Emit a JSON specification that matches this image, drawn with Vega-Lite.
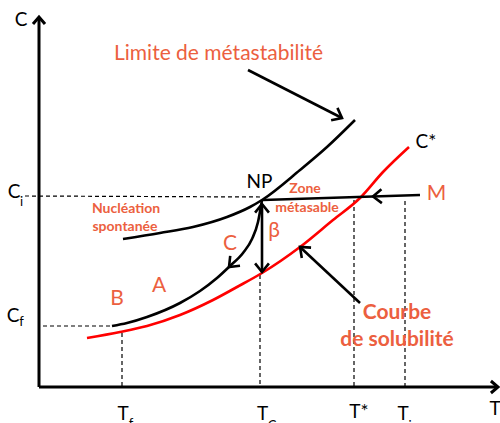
{
  "$schema": "https://vega.github.io/schema/vega-lite/v6.json",
  "autosize": {"type": "none"},
  "padding": 0,
  "width": 500,
  "height": 423,
  "background": "white",
  "config": {"view": {"stroke": null}},
  "datasets": {
    "curves": [
      {"series": "solubility", "T": 87, "C": 85},
      {"series": "solubility", "T": 120, "C": 91},
      {"series": "solubility", "T": 147, "C": 97},
      {"series": "solubility", "T": 180, "C": 108},
      {"series": "solubility", "T": 213, "C": 123},
      {"series": "solubility", "T": 237, "C": 136},
      {"series": "solubility", "T": 262, "C": 150},
      {"series": "solubility", "T": 300, "C": 176},
      {"series": "solubility", "T": 333, "C": 203},
      {"series": "solubility", "T": 360, "C": 225},
      {"series": "solubility", "T": 383, "C": 251},
      {"series": "solubility", "T": 409, "C": 276},
      {"series": "metastability", "T": 123, "C": 184},
      {"series": "metastability", "T": 160, "C": 190},
      {"series": "metastability", "T": 193, "C": 196},
      {"series": "metastability", "T": 227, "C": 206},
      {"series": "metastability", "T": 250, "C": 216},
      {"series": "metastability", "T": 262, "C": 223},
      {"series": "metastability", "T": 300, "C": 253},
      {"series": "metastability", "T": 327, "C": 276},
      {"series": "metastability", "T": 355, "C": 303},
      {"series": "trajectory", "T": 112, "C": 97},
      {"series": "trajectory", "T": 127, "C": 100},
      {"series": "trajectory", "T": 147, "C": 106},
      {"series": "trajectory", "T": 180, "C": 120},
      {"series": "trajectory", "T": 200, "C": 132},
      {"series": "trajectory", "T": 217, "C": 145},
      {"series": "trajectory", "T": 230, "C": 157},
      {"series": "trajectory", "T": 243, "C": 170},
      {"series": "trajectory", "T": 252, "C": 184},
      {"series": "trajectory", "T": 258, "C": 201},
      {"series": "trajectory", "T": 262, "C": 223}
    ],
    "axes": [
      {"T": 39, "C": 36, "T2": 39, "C2": 405},
      {"T": 39, "C": 36, "T2": 497, "C2": 36}
    ],
    "guides": [
      {"name": "Ci", "T": 25, "C": 227, "T2": 262, "C2": 226},
      {"name": "Cf", "T": 43, "C": 97, "T2": 112, "C2": 97},
      {"name": "Tf", "T": 122, "C": 90, "T2": 122, "C2": 36},
      {"name": "Tc", "T": 260, "C": 148, "T2": 260, "C2": 36},
      {"name": "T*", "T": 354, "C": 223, "T2": 354, "C2": 36},
      {"name": "Ti", "T": 405, "C": 222, "T2": 405, "C2": 36}
    ],
    "arrows": [
      {"name": "M", "T": 420, "C": 228, "T2": 263, "C2": 223},
      {"name": "beta", "T": 262, "C": 219, "T2": 262, "C2": 151},
      {"name": "limite", "T": 248, "C": 353, "T2": 342, "C2": 305},
      {"name": "courbe", "T": 360, "C": 120, "T2": 300, "C2": 176}
    ],
    "axisHeads": [
      {"T": 39, "C": 406, "angle": -90},
      {"T": 498, "C": 36, "angle": 0}
    ],
    "heads": [
      {"T": 342, "C": 305, "angle": 27},
      {"T": 300, "C": 176, "angle": -138},
      {"T": 373, "C": 226.5, "angle": 178},
      {"T": 262, "C": 219, "angle": -90},
      {"T": 262, "C": 151, "angle": 90},
      {"T": 229, "C": 156, "angle": 135}
    ],
    "labels": [
      {"group": "black", "text": "C", "T": 21, "C": 397},
      {"group": "black", "text": "T", "T": 495, "C": 8},
      {"group": "black", "text": "NP", "T": 259.5, "C": 235},
      {"group": "black", "text": "C*", "T": 426, "C": 275},
      {"group": "black", "text": "C", "T": 14, "C": 225},
      {"group": "black", "text": "C", "T": 13, "C": 101},
      {"group": "black", "text": "T", "T": 123, "C": 3},
      {"group": "black", "text": "T", "T": 262.5, "C": 3},
      {"group": "black", "text": "T*", "T": 359, "C": 5},
      {"group": "black", "text": "T", "T": 403, "C": 3},
      {"group": "sub", "text": "i", "T": 21.5, "C": 217},
      {"group": "sub", "text": "f", "T": 21.5, "C": 97},
      {"group": "sub", "text": "f", "T": 131, "C": -5},
      {"group": "sub", "text": "C", "T": 272, "C": -7},
      {"group": "sub", "text": "i", "T": 410, "C": -7},
      {"group": "red", "text": "Limite de métastabilité", "T": 218.5, "C": 363},
      {"group": "red", "text": "M", "T": 436.5, "C": 223},
      {"group": "red", "text": "C", "T": 230, "C": 173},
      {"group": "red", "text": "A", "T": 159, "C": 131},
      {"group": "red", "text": "B", "T": 117, "C": 118},
      {"group": "red", "text": "β", "T": 274, "C": 186},
      {"group": "redSmall", "text": "Zone", "T": 305, "C": 230},
      {"group": "redSmall", "text": "métasable", "T": 307, "C": 211},
      {"group": "redSmall", "text": "Nucléation", "T": 126, "C": 210},
      {"group": "redSmall", "text": "spontanée", "T": 125, "C": 192},
      {"group": "redBig", "text": "Courbe", "T": 397, "C": 104},
      {"group": "redBig", "text": "de solubilité", "T": 397, "C": 77}
    ]
  },
  "encoding": {
    "x": {"field": "T", "type": "quantitative", "scale": {"domain": [0, 500], "nice": false, "zero": false}, "axis": null},
    "y": {"field": "C", "type": "quantitative", "scale": {"domain": [0, 423], "nice": false, "zero": false}, "axis": null}
  },
  "layer": [
    {
      "data": {"name": "guides"},
      "mark": {"type": "rule", "color": "black", "strokeWidth": 1.2, "strokeDash": [4, 3]},
      "encoding": {"x2": {"field": "T2"}, "y2": {"field": "C2"}}
    },
    {
      "data": {"name": "axes"},
      "mark": {"type": "rule", "color": "black", "strokeWidth": 3},
      "encoding": {"x2": {"field": "T2"}, "y2": {"field": "C2"}}
    },
    {
      "data": {"name": "curves"},
      "mark": {"type": "line", "interpolate": "monotone", "strokeWidth": 2.6},
      "encoding": {
        "detail": {"field": "series"},
        "color": {"field": "series", "type": "nominal", "scale": {"domain": ["solubility", "metastability", "trajectory"], "range": ["#ff0000", "#000000", "#000000"]}, "legend": null}
      }
    },
    {
      "data": {"name": "arrows"},
      "mark": {"type": "rule", "color": "black", "strokeWidth": 2.6},
      "encoding": {"x2": {"field": "T2"}, "y2": {"field": "C2"}}
    },
    {
      "data": {"name": "axisHeads"},
      "mark": {"type": "point", "shape": "M-1,-0.85L0,0L-1,0.85", "filled": false, "stroke": "black", "strokeWidth": 3, "size": 200, "opacity": 1},
      "encoding": {"angle": {"field": "angle", "type": "quantitative", "scale": null}}
    },
    {
      "data": {"name": "heads"},
      "mark": {"type": "point", "shape": "M-1,-0.8L0,0L-1,0.8", "filled": false, "stroke": "black", "strokeWidth": 2.6, "size": 300, "opacity": 1},
      "encoding": {"angle": {"field": "angle", "type": "quantitative", "scale": null}}
    },
    {
      "data": {"name": "labels"},
      "transform": [{"filter": "datum.group === 'black'"}],
      "mark": {"type": "text", "font": "Lato", "fontSize": 19, "color": "black", "align": "center", "baseline": "alphabetic"},
      "encoding": {"text": {"field": "text"}}
    },
    {
      "data": {"name": "labels"},
      "transform": [{"filter": "datum.group === 'sub'"}],
      "mark": {"type": "text", "font": "Lato", "fontSize": 13, "color": "black", "align": "center", "baseline": "alphabetic"},
      "encoding": {"text": {"field": "text"}}
    },
    {
      "data": {"name": "labels"},
      "transform": [{"filter": "datum.group === 'red'"}],
      "mark": {"type": "text", "font": "Lato", "fontSize": 21, "color": "#EC5F40", "align": "center", "baseline": "alphabetic"},
      "encoding": {"text": {"field": "text"}}
    },
    {
      "data": {"name": "labels"},
      "transform": [{"filter": "datum.group === 'redSmall'"}],
      "mark": {"type": "text", "font": "Lato", "fontSize": 14, "fontWeight": "bold", "color": "#EC5F40", "align": "center", "baseline": "alphabetic"},
      "encoding": {"text": {"field": "text"}}
    },
    {
      "data": {"name": "labels"},
      "transform": [{"filter": "datum.group === 'redBig'"}],
      "mark": {"type": "text", "font": "Lato", "fontSize": 21, "fontWeight": "bold", "color": "#EC5F40", "align": "center", "baseline": "alphabetic"},
      "encoding": {"text": {"field": "text"}}
    }
  ]
}
